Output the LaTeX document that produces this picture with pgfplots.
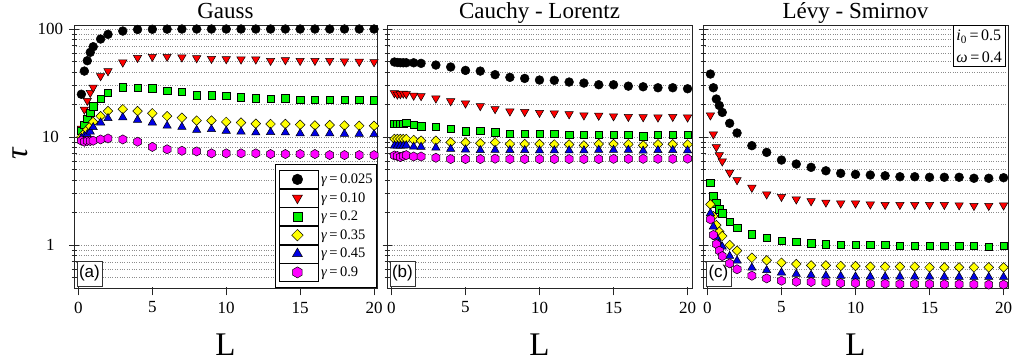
\documentclass[border=0pt]{standalone}
\usepackage{fontspec}
\setmainfont{Liberation Serif}
\newfontfamily\arialfont{Liberation Sans}
\usepackage{pgfplots}
\pgfplotsset{compat=1.18}
\usepackage{pgfplotstable}

\definecolor{cred}{RGB}{255,0,0}
\definecolor{cgreen}{RGB}{0,240,0}
\definecolor{cyellow}{RGB}{255,255,0}
\definecolor{cblue}{RGB}{0,0,230}
\definecolor{cmag}{RGB}{255,0,255}

\pgfdeclareplotmark{hexagon*}{%
  \pgfpathmoveto{\pgfpointpolar{30}{\pgfplotmarksize}}%
  \pgfpathlineto{\pgfpointpolar{90}{\pgfplotmarksize}}%
  \pgfpathlineto{\pgfpointpolar{150}{\pgfplotmarksize}}%
  \pgfpathlineto{\pgfpointpolar{210}{\pgfplotmarksize}}%
  \pgfpathlineto{\pgfpointpolar{270}{\pgfplotmarksize}}%
  \pgfpathlineto{\pgfpointpolar{330}{\pgfplotmarksize}}%
  \pgfpathclose\pgfusepathqfillstroke}
\pgfdeclareplotmark{sqdiamond*}{%
  \pgfpathmoveto{\pgfqpoint{0pt}{\pgfplotmarksize}}%
  \pgfpathlineto{\pgfqpoint{\pgfplotmarksize}{0pt}}%
  \pgfpathlineto{\pgfqpoint{0pt}{-\pgfplotmarksize}}%
  \pgfpathlineto{\pgfqpoint{-\pgfplotmarksize}{0pt}}%
  \pgfpathclose\pgfusepathqfillstroke}

\pgfplotsset{every axis title shift=0pt}

% Gauss
\pgfplotstableread{
L    k      r     g     y     b     m
0.2  24.9   12.0  11.5  10.0  9.8   9.25
0.4  40.8   18.0  13.0  10.8  10.2  9.05
0.6  50.9   21.7  14.8  11.7  10.6  9.2
0.8  60.8   25.7  16.7  12.6  11.2  9.2
1.0  68.6   28.8  19.2  13.8  12.3  9.25
1.5  80.8   36.7  22.6  15.6  13.6  9.5
2    89.3   40.8  25.6  17.4  14.9  9.7
3    95.8   49.1  28.8  18.1  15.2  9.5
4    99.0   54.2  28.6  17.4  14.4  9.05
5    99.5   55.5  28.4  16.6  13.6  8.1
6    99.8   55.5  26.8  15.6  12.7  7.7
7    100    54.7  26.1  15.1  12.4  7.46
8    100    53.8  24.3  14.2  11.6  7.36
9    100    53.1  24.4  14.2  11.8  7.06
10   100    52.7  24.0  13.8  11.4  7.06
11   100    52.4  23.3  13.6  11.2  7.06
12   100    52.4  22.8  13.3  11.0  7.06
13   100    50.9  22.7  13.2  11.1  6.96
14   100    51.6  22.8  13.2  11.0  6.96
15   100    50.9  22.2  13.0  10.8  6.96
16   100    50.9  22.1  12.8  10.8  6.96
17   100    50.9  22.2  12.9  10.8  6.81
18   100    50.2  22.1  12.8  10.7  6.81
19   100    49.9  22.1  12.7  10.7  6.81
20   100    49.5  22.0  12.7  10.6  6.8
}\tabA

% Cauchy - Lorentz
\pgfplotstableread{
L    k      r     g      y     b     m
0.2  49.5   25.5  13.3   9.6   8.3   6.75
0.4  49.0   24.8  13.3   9.6   8.3   6.67
0.6  48.8   25.0  13.3   9.6   8.3   6.53
0.8  48.7   25.3  13.3   9.6   8.3   6.67
1.0  48.7   25.0  13.6   9.6   8.35  6.8
1.5  48.7   24.2  13.0   9.38  8.13  6.6
2    48.1   24.0  12.6   9.25  8.1   6.6
3    46.4   22.8  12.4   9.25  7.96  6.43
4    44.5   21.5  11.9   8.94  7.74  6.25
5    41.4   20.5  11.3   8.9   7.65  6.25
6    40.8   19.4  11.4   8.75  7.54  6.25
7    37.8   18.2  11.1   8.9   7.58  6.3
8    35.7   17.3  10.7   8.61  7.54  6.25
9    34.9   17.1  10.7   8.61  7.54  6.25
10   33.7   16.8  10.7   8.61  7.5   6.25
11   33.5   16.6  10.7   8.53  7.5   6.25
12   32.3   16.3  10.5   8.53  7.5   6.25
13   31.6   15.9  10.5   8.37  7.5   6.25
14   30.5   15.8  10.55  8.61  7.58  6.25
15   30.5   15.6  10.55  8.61  7.58  6.28
16   29.6   15.4  10.5   8.57  7.58  6.28
17   29.2   15.3  10.2   8.37  7.45  6.28
18   28.6   15.2  10.55  8.57  7.54  6.28
19   28.6   15.4  10.5   8.57  7.54  6.28
20   28.0   15.2  10.45  8.53  7.5   6.3
}\tabB

% Levy - Smirnov
\pgfplotstableread{
L    k      r     g      y      b      m
0.2  38.3   15.9  3.78   2.38   1.97   1.73
0.4  28.6   10.6  2.84   1.85   1.48   1.24
0.6  22.5   8.07  2.43   1.53   1.19   1.02
0.8  19.6   6.81  2.14   1.33   1.04   0.886
1.0  16.9   5.96  1.97   1.21   0.965  0.79
1.5  13.4   4.68  1.64   1.0    0.79   0.676
2    10.9   4.0   1.45   0.886  0.716  0.596
3    8.32   3.40  1.26   0.763  0.616  0.520
4    7.21   2.95  1.17   0.722  0.583  0.491
5    6.12   2.80  1.09   0.686  0.555  0.467
6    5.62   2.65  1.07   0.667  0.539  0.457
7    5.24   2.55  1.04   0.648  0.527  0.455
8    4.87   2.48  1.02   0.648  0.520  0.451
9    4.61   2.43  1.01   0.640  0.516  0.444
10   4.51   2.43  1.01   0.640  0.510  0.444
11   4.45   2.38  1.0    0.630  0.509  0.438
12   4.38   2.36  1.0    0.630  0.509  0.438
13   4.29   2.36  0.99   0.630  0.509  0.435
14   4.29   2.36  0.99   0.630  0.509  0.435
15   4.24   2.36  0.98   0.621  0.509  0.435
16   4.24   2.36  0.98   0.621  0.507  0.433
17   4.24   2.34  0.98   0.621  0.507  0.433
18   4.15   2.31  0.98   0.621  0.505  0.432
19   4.15   2.31  0.965  0.621  0.505  0.430
20   4.20   2.33  0.98   0.620  0.505  0.430
}\tabC

\begin{document}
\begin{tikzpicture}
\useasboundingbox (0,0) rectangle (1015pt,362pt);

% ---------- Gauss ----------
\begin{axis}[
  ymode=log,
  at={(74pt,74pt)}, anchor=south west, scale only axis, width=303pt, height=263pt,
  ymin=0.4, ymax=109, xmin=-0.3, xmax=20.2,
  xtick={0,5,10,15,20}, xticklabels={0,5,10,15,20},
  ytick={1,10,100}, yticklabels={1,10,100},
  minor ytick={0.5,0.6,0.7,0.8,0.9,2,3,4,5,6,7,8,9,20,30,40,50,60,70,80,90},
  ymajorgrids, yminorgrids,
  grid style={dotted, black!45, line width=0.5pt},
  axis line style={line width=0.8pt, black!85},
  tick style={black!85, line width=0.7pt},
  tick align=center, major tick length=9pt, minor tick length=5pt,
  xtick pos=bottom, ytick pos=left,
  xtick style={yshift=-3pt},
  tick label style={font=\fontsize{17}{20}\selectfont},
  xticklabel style={anchor=center, yshift=-15pt},
  yticklabel style={anchor=center, xshift=-19pt},
  title style={anchor=base, yshift=6.7pt, font=\fontsize{23}{27}\selectfont},
  xlabel={L},
  xlabel style={at={(rel axis cs:0.5,0)}, anchor=base, yshift=-67pt, font=\fontsize{33}{36}\selectfont},
  only marks,
  title={Gauss},
  ylabel={\textit{τ}},
  ylabel style={at={(rel axis cs:0,0.5)}, anchor=center, xshift=3.5pt, yshift=53.5pt, font=\fontsize{32}{34}\selectfont},
  legend image code/.code={\path (0pt,-9pt) rectangle (39pt,9pt);
      \draw[#1, every mark/.append style={scale=1.2}] plot coordinates {(17.7pt,0pt)};},
  legend style={at={(rel axis cs:1,0)}, anchor=south east, draw=black, line width=0.6pt,
    inner xsep=4pt, inner ysep=6pt, nodes={inner sep=0pt}, row sep=0pt, column sep=2pt,
    font=\fontsize{14.5}{16}\selectfont},
  legend cell align=left,
]
\addplot[mark=*, mark size=4.4pt, mark options={draw=black, fill=black, line width=0.5pt}] table[x=L,y=k]{\tabA};
\addlegendentry{\textit{γ}\,=\,0.025}
\addplot[mark=triangle*, mark size=4.8pt, mark options={rotate=180, draw=black, fill=cred, line width=0.5pt}] table[x=L,y=r]{\tabA};
\addlegendentry{\textit{γ}\,=\,0.10}
\addplot[mark=square*, mark size=3.7pt, mark options={draw=black, fill=cgreen, line width=0.5pt}] table[x=L,y=g]{\tabA};
\addlegendentry{\textit{γ}\,=\,0.2}
\addplot[mark=sqdiamond*, mark size=4.8pt, mark options={draw=black, fill=cyellow, line width=0.5pt}] table[x=L,y=y]{\tabA};
\addlegendentry{\textit{γ}\,=\,0.35}
\addplot[mark=triangle*, mark size=4.8pt, mark options={draw=black, fill=cblue, line width=0.5pt}] table[x=L,y=b]{\tabA};
\addlegendentry{\textit{γ}\,=\,0.45}
\addplot[mark=hexagon*, mark size=4.6pt, mark options={draw=black, fill=cmag, line width=0.5pt}] table[x=L,y=m]{\tabA};
\addlegendentry{\textit{γ}\,=\,0.9}
\node[draw=black!80, fill=white, line width=0.5pt, inner sep=0pt, minimum width=25pt, minimum height=25pt,
  anchor=south west, font=\arialfont\fontsize{17}{19}\selectfont, xshift=2.7pt, yshift=2pt] at (rel axis cs:0,0) {(a)};
\end{axis}

% ---------- Cauchy - Lorentz ----------
\begin{axis}[
  ymode=log,
  at={(387pt,74pt)}, anchor=south west, scale only axis, width=305pt, height=263pt,
  ymin=0.4, ymax=109, xmin=-0.3, xmax=20.3,
  xtick={0,5,10,15,20}, xticklabels={0,5,10,15,20},
  ytick={1,10,100}, yticklabels={,,},
  minor ytick={0.5,0.6,0.7,0.8,0.9,2,3,4,5,6,7,8,9,20,30,40,50,60,70,80,90},
  ymajorgrids, yminorgrids,
  grid style={dotted, black!45, line width=0.5pt},
  axis line style={line width=0.8pt, black!85},
  tick style={black!85, line width=0.7pt},
  tick align=center, major tick length=9pt, minor tick length=5pt,
  xtick pos=bottom, ytick pos=left,
  xtick style={yshift=-3pt},
  tick label style={font=\fontsize{17}{20}\selectfont},
  xticklabel style={anchor=center, yshift=-15pt},
  title style={anchor=base, yshift=6.7pt, font=\fontsize{23}{27}\selectfont},
  xlabel={L},
  xlabel style={at={(rel axis cs:0.5,0)}, anchor=base, yshift=-67pt, font=\fontsize{33}{36}\selectfont},
  only marks,
  title={Cauchy - Lorentz},
]
\addplot[mark=*, mark size=4.4pt, mark options={draw=black, fill=black, line width=0.5pt}] table[x=L,y=k]{\tabB};
\addplot[mark=triangle*, mark size=4.8pt, mark options={rotate=180, draw=black, fill=cred, line width=0.5pt}] table[x=L,y=r]{\tabB};
\addplot[mark=square*, mark size=3.7pt, mark options={draw=black, fill=cgreen, line width=0.5pt}] table[x=L,y=g]{\tabB};
\addplot[mark=sqdiamond*, mark size=4.8pt, mark options={draw=black, fill=cyellow, line width=0.5pt}] table[x=L,y=y]{\tabB};
\addplot[mark=triangle*, mark size=4.8pt, mark options={draw=black, fill=cblue, line width=0.5pt}] table[x=L,y=b]{\tabB};
\addplot[mark=hexagon*, mark size=4.6pt, mark options={draw=black, fill=cmag, line width=0.5pt}] table[x=L,y=m]{\tabB};
\node[draw=black!80, fill=white, line width=0.5pt, inner sep=0pt, minimum width=25pt, minimum height=25pt,
  anchor=south west, font=\arialfont\fontsize{17}{19}\selectfont, xshift=2.7pt, yshift=2pt] at (rel axis cs:0,0) {(b)};
\end{axis}

% ---------- Levy - Smirnov ----------
\begin{axis}[
  ymode=log,
  at={(703pt,74pt)}, anchor=south west, scale only axis, width=305pt, height=263pt,
  ymin=0.4, ymax=109, xmin=-0.3, xmax=20.3,
  xtick={0,5,10,15,20}, xticklabels={0,5,10,15,20},
  ytick={1,10,100}, yticklabels={,,},
  minor ytick={0.5,0.6,0.7,0.8,0.9,2,3,4,5,6,7,8,9,20,30,40,50,60,70,80,90},
  ymajorgrids, yminorgrids,
  grid style={dotted, black!45, line width=0.5pt},
  axis line style={line width=0.8pt, black!85},
  tick style={black!85, line width=0.7pt},
  tick align=center, major tick length=9pt, minor tick length=5pt,
  xtick pos=bottom, ytick pos=left,
  xtick style={yshift=-3pt},
  tick label style={font=\fontsize{17}{20}\selectfont},
  xticklabel style={anchor=center, yshift=-15pt},
  title style={anchor=base, yshift=6.7pt, font=\fontsize{23}{27}\selectfont},
  xlabel={L},
  xlabel style={at={(rel axis cs:0.5,0)}, anchor=base, yshift=-67pt, font=\fontsize{33}{36}\selectfont},
  only marks,
  title={Lévy - Smirnov},
]
\addplot[mark=*, mark size=4.4pt, mark options={draw=black, fill=black, line width=0.5pt}] table[x=L,y=k]{\tabC};
\addplot[mark=triangle*, mark size=4.8pt, mark options={rotate=180, draw=black, fill=cred, line width=0.5pt}] table[x=L,y=r]{\tabC};
\addplot[mark=square*, mark size=3.7pt, mark options={draw=black, fill=cgreen, line width=0.5pt}] table[x=L,y=g]{\tabC};
\addplot[mark=sqdiamond*, mark size=4.8pt, mark options={draw=black, fill=cyellow, line width=0.5pt}] table[x=L,y=y]{\tabC};
\addplot[mark=triangle*, mark size=4.8pt, mark options={draw=black, fill=cblue, line width=0.5pt}] table[x=L,y=b]{\tabC};
\addplot[mark=hexagon*, mark size=4.6pt, mark options={draw=black, fill=cmag, line width=0.5pt}] table[x=L,y=m]{\tabC};
\node[draw=black!80, fill=white, line width=0.5pt, inner sep=0pt, minimum width=25pt, minimum height=25pt,
  anchor=south west, font=\arialfont\fontsize{17}{19}\selectfont, xshift=2.7pt, yshift=2pt] at (rel axis cs:0,0) {(c)};
\node[draw=black, fill=white, line width=0.6pt, anchor=north east, align=left, inner xsep=3pt, inner ysep=4pt,
  font=\fontsize{16}{22}\selectfont, xshift=-2.7pt, yshift=-0.5pt] at (rel axis cs:1,1)
  {\textit{i}\textsubscript{0}\,=\,0.5\\\textit{ω}\,=\,0.4};
\end{axis}
\end{tikzpicture}
\end{document}
